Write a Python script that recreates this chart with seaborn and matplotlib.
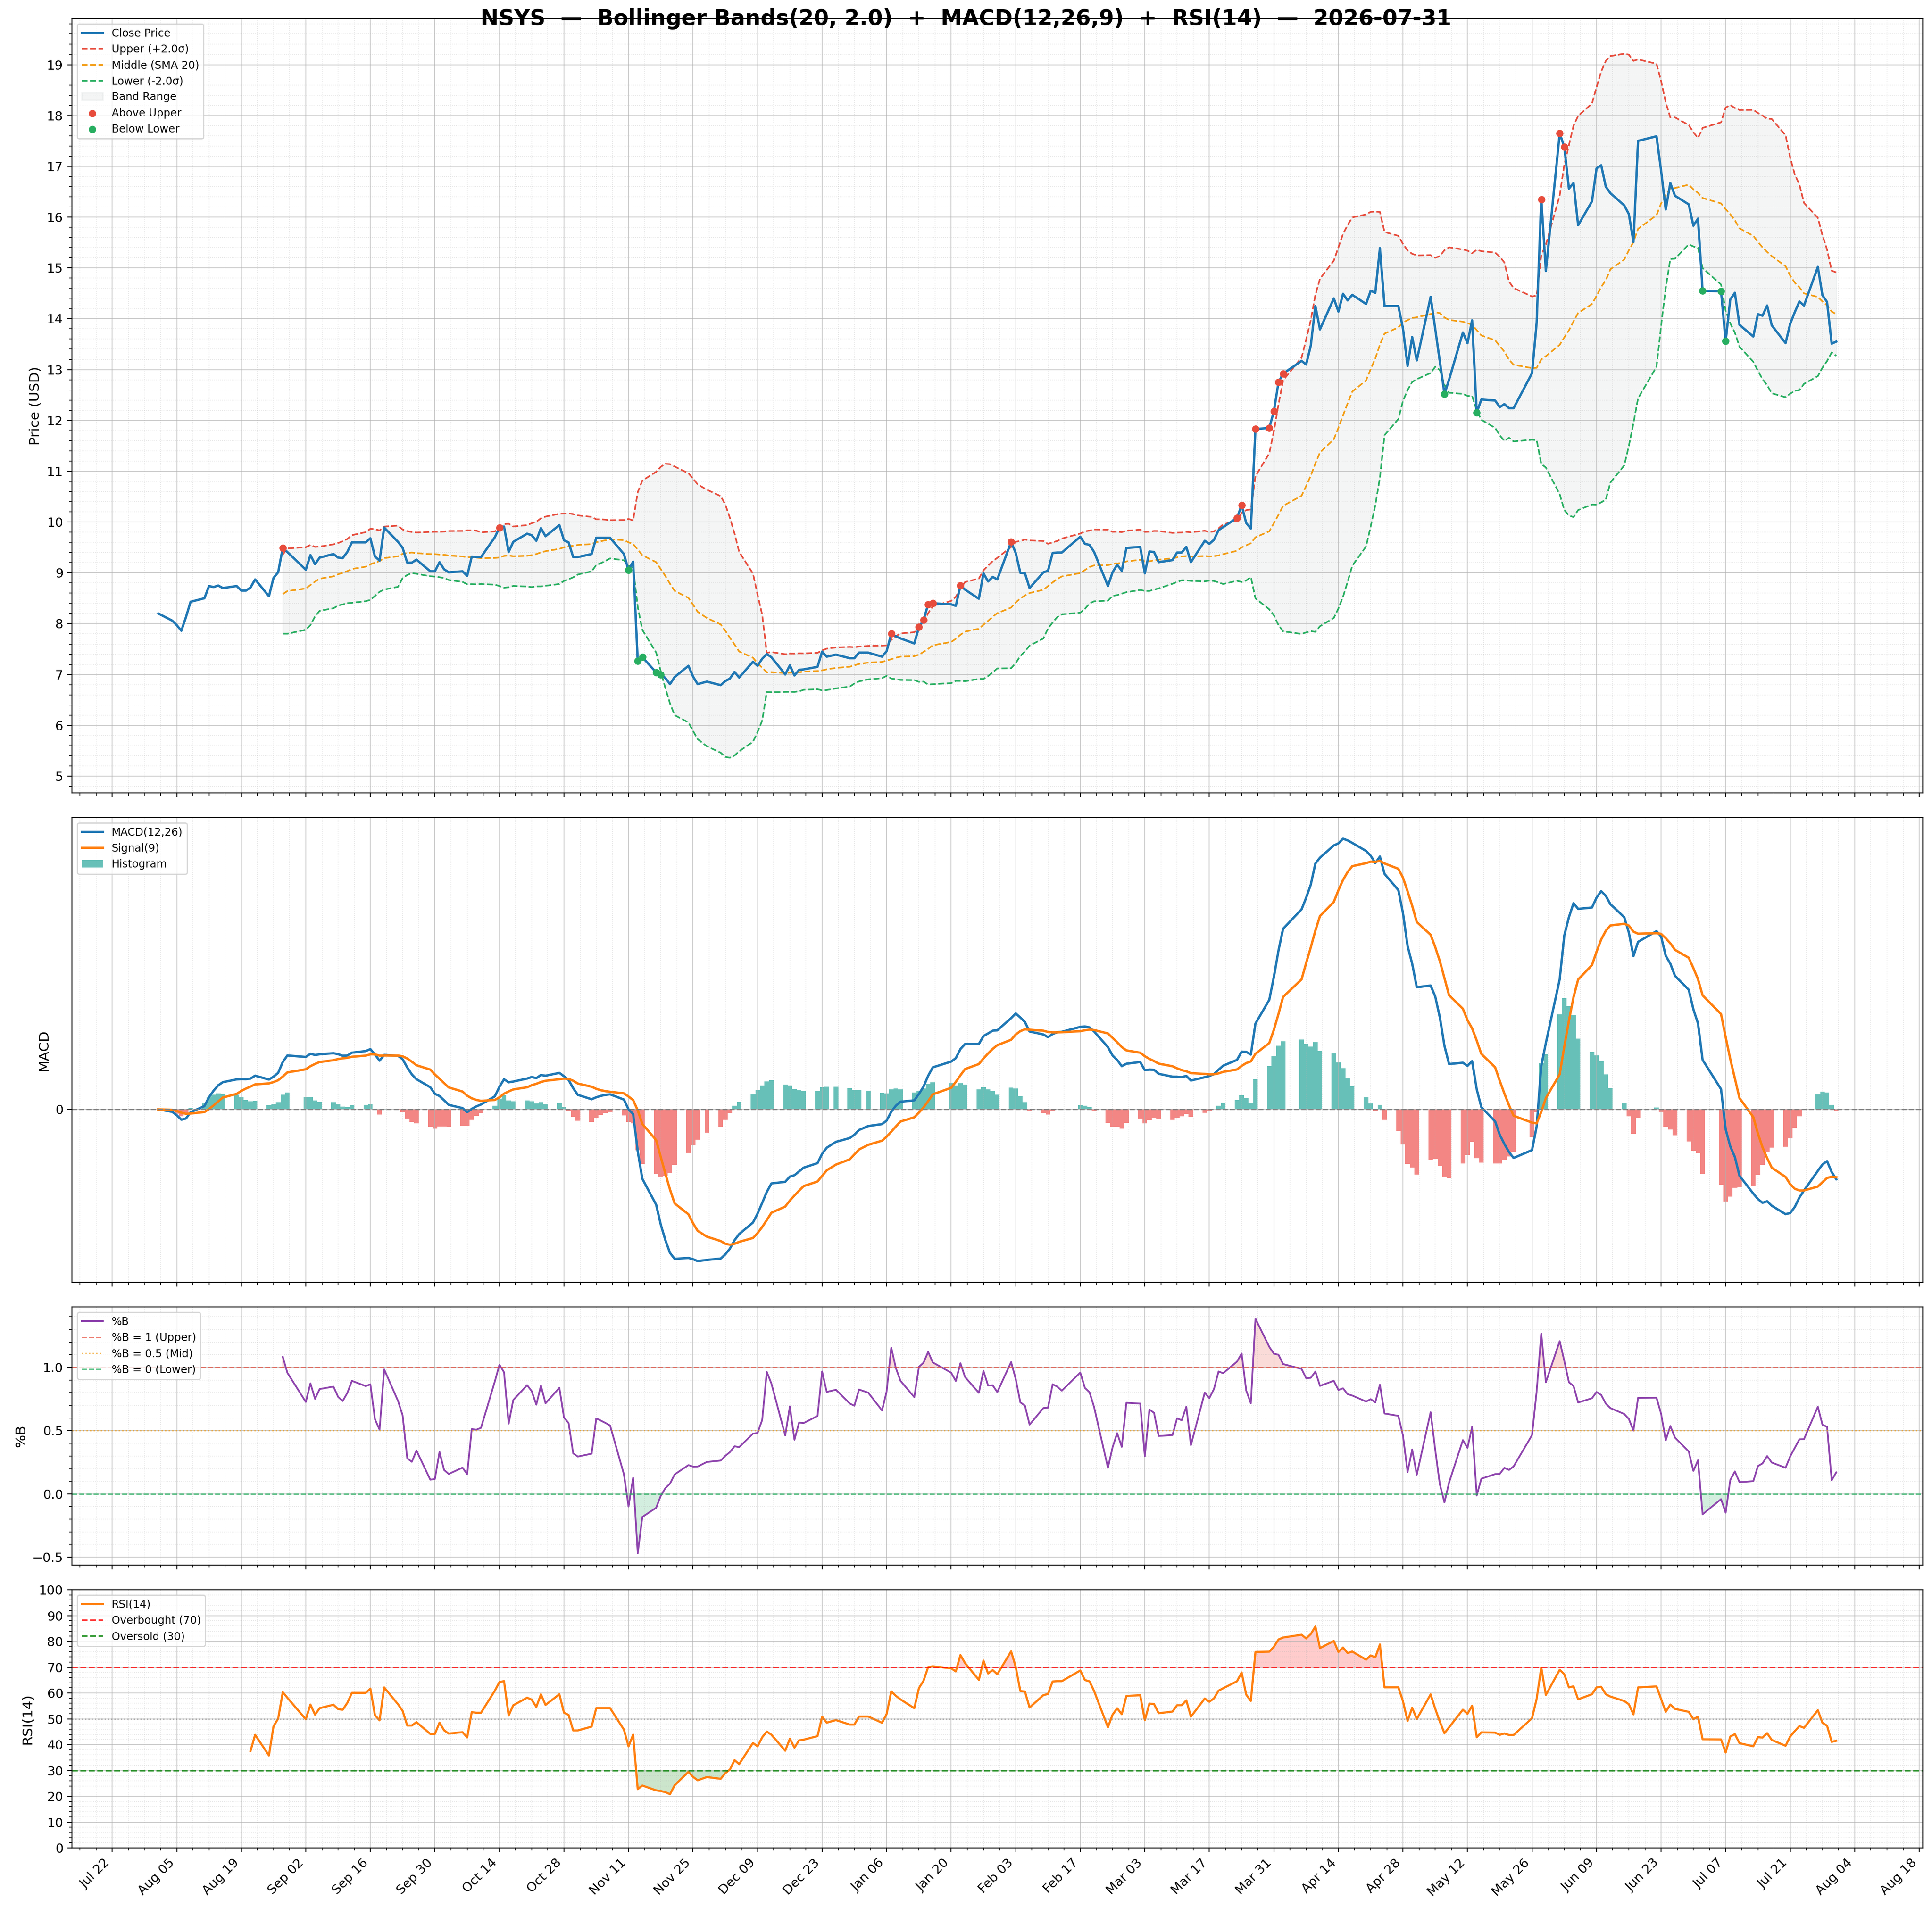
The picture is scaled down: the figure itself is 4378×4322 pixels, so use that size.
"""
NSYS technical chart: Bollinger Bands, MACD, %B and RSI panels
built from one year of daily closing prices.
"""

import numpy as np
import pandas as pd
import matplotlib
matplotlib.use("Agg")
import matplotlib.pyplot as plt
import matplotlib.dates as mdates
from matplotlib.ticker import AutoMinorLocator, MultipleLocator, NullLocator
import seaborn as sns

TICKER = "NSYS"
AS_OF = "2026-07-31"
BB_WINDOW, BB_K = 20, 2.0
MACD_FAST, MACD_SLOW, MACD_SIGNAL = 12, 26, 9
RSI_PERIOD = 14

START, END = "2025-08-01", "2026-07-31"
# exchange holidays inside the window (no trading rows)
HOLIDAYS = ["2025-09-01", "2025-11-27", "2025-12-25", "2026-01-01", "2026-01-19",
            "2026-02-16", "2026-04-03", "2026-05-25", "2026-06-19", "2026-07-03"]

# ── daily closes, one list per month ──
close_aug = [8.20, 8.06, 7.97, 7.86, 8.13, 8.43, 8.50, 8.74, 8.72, 8.75, 8.70,
             8.74, 8.65, 8.65, 8.71, 8.87, 8.54, 8.90, 9.01, 9.49, 9.41]
close_sep = [9.06, 9.35, 9.17, 9.30, 9.37, 9.30, 9.29, 9.41, 9.60, 9.60, 9.68,
             9.32, 9.24, 9.89, 9.61, 9.49, 9.20, 9.20, 9.26, 9.03, 9.03]
close_oct = [9.21, 9.07, 9.01, 9.03, 8.94, 9.32, 9.31, 9.31, 9.70, 9.89, 9.91,
             9.41, 9.61, 9.77, 9.74, 9.63, 9.88, 9.72, 9.94, 9.64, 9.60, 9.31, 9.31]
close_nov = [9.37, 9.69, 9.69, 9.69, 9.69, 9.37, 9.05, 9.22, 7.27, 7.34, 7.04,
             7.00, 6.93, 6.81, 6.95, 7.17, 6.96, 6.81, 6.86]
close_dec = [6.79, 6.87, 6.92, 7.05, 6.94, 7.25, 7.17, 7.31, 7.40, 7.34, 7.00,
             7.18, 6.98, 7.09, 7.10, 7.15, 7.45, 7.35, 7.39, 7.32, 7.32, 7.43]
close_jan = [7.43, 7.35, 7.46, 7.80, 7.75, 7.71, 7.61, 7.93, 8.07, 8.38, 8.40,
             8.38, 8.35, 8.75, 8.67, 8.49, 8.99, 8.83, 8.92, 8.87]
close_feb = [9.61, 9.39, 9.00, 8.99, 8.70, 9.01, 9.04, 9.39, 9.40, 9.40, 9.71,
             9.57, 9.55, 9.41, 8.74, 9.01, 9.16, 9.04, 9.49]
close_mar = [9.51, 8.99, 9.42, 9.41, 9.21, 9.25, 9.40, 9.40, 9.51, 9.21, 9.63,
             9.57, 9.65, 9.84, 9.90, 10.08, 10.33, 9.98, 9.87, 11.83, 11.85, 12.18]
close_apr = [12.75, 12.92, 13.17, 13.10, 13.47, 14.25, 13.79, 14.40, 14.14, 14.49,
             14.36, 14.47, 14.29, 14.55, 14.51, 15.39, 14.25, 14.25, 13.81, 13.07, 13.64]
close_may = [13.18, 14.43, 13.80, 13.16, 12.52, 12.80, 13.73, 13.52, 13.97, 12.15,
             12.41, 12.39, 12.26, 12.32, 12.24, 12.24, 12.93, 13.92, 16.35, 14.94]
close_jun = [17.65, 17.38, 16.56, 16.67, 15.84, 16.31, 16.96, 17.02, 16.60, 16.47,
             16.23, 16.06, 15.51, 17.50, 17.59, 16.91, 16.15, 16.67, 16.42, 16.25, 15.83]
close_jul = [15.97, 14.55, 14.54, 13.56, 14.38, 14.51, 13.88, 13.65, 14.09, 14.06,
             14.26, 13.87, 13.52, 13.90, 14.13, 14.34, 14.26, 15.02, 14.46, 14.33,
             13.51, 13.55]

# biweekly Tuesday ticks on the shared date axis
TICK_START, N_TICKS = "2025-07-22", 29

DPI = 200


def build_frame() -> pd.DataFrame:
    dates = pd.bdate_range(START, END, freq="C", holidays=HOLIDAYS)
    values = np.concatenate([close_aug, close_sep, close_oct, close_nov, close_dec,
                             close_jan, close_feb, close_mar, close_apr, close_may,
                             close_jun, close_jul])
    assert len(values) == len(dates), (len(values), len(dates))
    df = pd.DataFrame({"close": values}, index=dates)

    # Bollinger
    df["mid"] = df["close"].rolling(BB_WINDOW).mean()
    sd = df["close"].rolling(BB_WINDOW).std()
    df["upper"] = df["mid"] + BB_K * sd
    df["lower"] = df["mid"] - BB_K * sd
    df["pct_b"] = (df["close"] - df["lower"]) / (df["upper"] - df["lower"])

    # MACD
    ema_fast = df["close"].ewm(span=MACD_FAST, adjust=False).mean()
    ema_slow = df["close"].ewm(span=MACD_SLOW, adjust=False).mean()
    df["macd"] = ema_fast - ema_slow
    df["signal"] = df["macd"].ewm(span=MACD_SIGNAL, adjust=False).mean()
    df["hist"] = df["macd"] - df["signal"]

    # RSI (Wilder smoothing)
    delta = df["close"].diff()
    gain = delta.clip(lower=0)
    loss = -delta.clip(upper=0)
    avg_gain = gain.ewm(alpha=1 / RSI_PERIOD, min_periods=RSI_PERIOD, adjust=False).mean()
    avg_loss = loss.ewm(alpha=1 / RSI_PERIOD, min_periods=RSI_PERIOD, adjust=False).mean()
    df["rsi"] = 100 - 100 / (1 + avg_gain / avg_loss)
    return df


def style_axis(ax):
    ax.minorticks_on()
    ax.grid(True, which="major", color="#b0b0b0", alpha=0.6, lw=0.8)
    ax.grid(True, which="minor", color="#b0b0b0", alpha=0.35, lw=0.6, linestyle=":")
    ax.tick_params(axis="both", which="major", labelsize=10.5)


def main():
    df = build_frame()
    d = df.index

    fig = plt.figure(figsize=(4378 / DPI, 4322 / DPI), dpi=DPI)
    gs = fig.add_gridspec(4, 1, height_ratios=[3, 1.8, 1, 1], hspace=0.0563,
                          left=0.0372, right=0.9952, top=0.9903, bottom=0.0310)
    ax_p = fig.add_subplot(gs[0])
    ax_m = fig.add_subplot(gs[1], sharex=ax_p)
    ax_b = fig.add_subplot(gs[2], sharex=ax_p)
    ax_r = fig.add_subplot(gs[3], sharex=ax_p)

    # ── Price + Bollinger ──
    sns.lineplot(x=d, y=df["close"].values, ax=ax_p, color="#1f77b4", lw=1.9,
                 label="Close Price", zorder=3)
    sns.lineplot(x=d, y=df["upper"].values, ax=ax_p, color="#e74c3c", lw=1.3,
                 linestyle="--", label=f"Upper (+{BB_K}σ)")
    sns.lineplot(x=d, y=df["mid"].values, ax=ax_p, color="#f39c12", lw=1.3,
                 linestyle="--", label=f"Middle (SMA {BB_WINDOW})")
    sns.lineplot(x=d, y=df["lower"].values, ax=ax_p, color="#27ae60", lw=1.3,
                 linestyle="--", label=f"Lower (-{BB_K}σ)")
    ax_p.fill_between(d, df["lower"], df["upper"], color="#95a5a6", alpha=0.1,
                      label="Band Range")
    above = df["close"] > df["upper"]
    below = df["close"] < df["lower"]
    sns.scatterplot(x=d[above], y=df.loc[above, "close"].values, ax=ax_p,
                    color="#e74c3c", s=36, linewidth=0, zorder=5, label="Above Upper")
    sns.scatterplot(x=d[below], y=df.loc[below, "close"].values, ax=ax_p,
                    color="#27ae60", s=36, linewidth=0, zorder=5, label="Below Lower")
    ax_p.set_ylabel("Price (USD)", fontsize=11.3)
    ax_p.legend(loc="upper left", fontsize=8.75)
    style_axis(ax_p)
    ax_p.yaxis.set_major_locator(MultipleLocator(1))
    ax_p.yaxis.set_minor_locator(AutoMinorLocator(5))

    # ── MACD ──
    sns.lineplot(x=d, y=df["macd"].values, ax=ax_m, color="#1f77b4", lw=1.9,
                 label=f"MACD({MACD_FAST},{MACD_SLOW})")
    sns.lineplot(x=d, y=df["signal"].values, ax=ax_m, color="#ff7f0e", lw=1.9,
                 label=f"Signal({MACD_SIGNAL})")
    bar_colors = np.where(df["hist"] >= 0, "#26a69a", "#ef5350")
    ax_m.bar(d, df["hist"], width=1.0, color=bar_colors, alpha=0.7, label="Histogram")
    ax_m.axhline(0, color="gray", linestyle="--", lw=1.1)
    ax_m.set_ylabel("MACD", fontsize=11.3)
    ax_m.legend(loc="upper left", fontsize=8.75)
    style_axis(ax_m)
    ax_m.set_yticks([0])
    ax_m.yaxis.set_minor_locator(NullLocator())

    # ── %B ──
    sns.lineplot(x=d, y=df["pct_b"].values, ax=ax_b, color="#8e44ad", lw=1.4, label="%B")
    ax_b.axhline(1.0, color="#e74c3c", linestyle="--", lw=1.1, alpha=0.7,
                 label="%B = 1 (Upper)")
    ax_b.axhline(0.5, color="#f39c12", linestyle=":", lw=1.1, alpha=0.7,
                 label="%B = 0.5 (Mid)")
    ax_b.axhline(0.0, color="#27ae60", linestyle="--", lw=1.1, alpha=0.7,
                 label="%B = 0 (Lower)")
    pb = df["pct_b"]
    ax_b.fill_between(d, pb, 1.0, where=pb > 1.0, interpolate=True,
                      color="#e74c3c", alpha=0.2)
    ax_b.fill_between(d, pb, 0.0, where=pb < 0.0, interpolate=True,
                      color="#27ae60", alpha=0.2)
    ax_b.set_ylabel("%B", fontsize=11.3)
    ax_b.legend(loc="upper left", fontsize=8.75)
    style_axis(ax_b)
    ax_b.yaxis.set_major_locator(MultipleLocator(0.5))

    # ── RSI ──
    sns.lineplot(x=d, y=df["rsi"].values, ax=ax_r, color="#ff7f0e", lw=1.7,
                 label=f"RSI({RSI_PERIOD})")
    ax_r.axhline(70, color="red", linestyle="--", lw=1.3, alpha=0.8, label="Overbought (70)")
    ax_r.axhline(30, color="green", linestyle="--", lw=1.3, alpha=0.8, label="Oversold (30)")
    ax_r.axhline(50, color="gray", linestyle=":", lw=1.0, alpha=0.6)
    rsi = df["rsi"]
    ax_r.fill_between(d, rsi, 70, where=rsi >= 70, interpolate=True, color="red", alpha=0.2)
    ax_r.fill_between(d, rsi, 30, where=rsi <= 30, interpolate=True, color="green", alpha=0.2)
    ax_r.set_ylim(0, 100)
    ax_r.set_ylabel(f"RSI({RSI_PERIOD})", fontsize=11.3)
    ax_r.legend(loc="upper left", fontsize=8.75)
    style_axis(ax_r)
    ax_r.yaxis.set_major_locator(MultipleLocator(10))

    # ── shared date axis ──
    ticks = pd.date_range(TICK_START, periods=N_TICKS, freq="14D")
    ax_r.set_xticks(ticks)
    ax_r.xaxis.set_major_formatter(mdates.DateFormatter("%b %d"))
    ax_r.xaxis.set_minor_locator(AutoMinorLocator(4))
    for ax in (ax_p, ax_m, ax_b):
        ax.tick_params(axis="x", labelbottom=False)
        ax.set_xlabel("")
    ax_r.set_xlabel("")
    plt.setp(ax_r.get_xticklabels(), rotation=45, ha="right", fontsize=10.5)

    fig.suptitle(
        f"{TICKER}  —  Bollinger Bands({BB_WINDOW}, {BB_K})  +  "
        f"MACD({MACD_FAST},{MACD_SLOW},{MACD_SIGNAL})  +  RSI({RSI_PERIOD})  —  {AS_OF}",
        fontsize=17.6, fontweight="bold", y=0.9955, va="top",
    )
    fig.savefig("out.png", dpi=DPI)
    plt.close(fig)


if __name__ == "__main__":
    main()
